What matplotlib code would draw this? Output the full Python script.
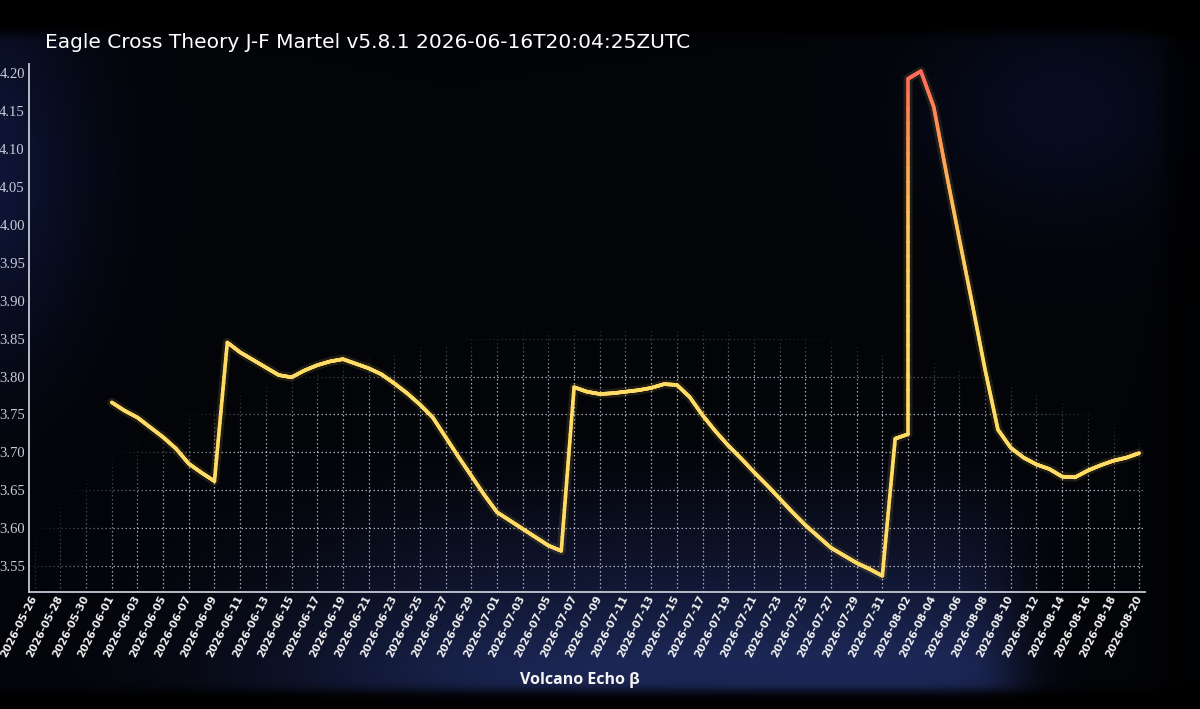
import numpy as np
import pandas as pd
import matplotlib
matplotlib.use("Agg")
import matplotlib.pyplot as plt
import matplotlib.dates as mdates
from matplotlib.collections import LineCollection
from matplotlib.colors import LinearSegmentedColormap, Normalize

# ---------------- data ----------------
dates = [
    "2026-06-01", "2026-06-02", "2026-06-03", "2026-06-04", "2026-06-05", "2026-06-06",
    "2026-06-07", "2026-06-08", "2026-06-09", "2026-06-10", "2026-06-11", "2026-06-12",
    "2026-06-13", "2026-06-14", "2026-06-15", "2026-06-16", "2026-06-17", "2026-06-18",
    "2026-06-19", "2026-06-20", "2026-06-21", "2026-06-22", "2026-06-23", "2026-06-24",
    "2026-06-25", "2026-06-26", "2026-06-27", "2026-06-28", "2026-06-29", "2026-06-30",
    "2026-07-01", "2026-07-02", "2026-07-03", "2026-07-04", "2026-07-05", "2026-07-06",
    "2026-07-07", "2026-07-08", "2026-07-09", "2026-07-10", "2026-07-11", "2026-07-12",
    "2026-07-13", "2026-07-14", "2026-07-15", "2026-07-16", "2026-07-17", "2026-07-18",
    "2026-07-19", "2026-07-20", "2026-07-21", "2026-07-22", "2026-07-23", "2026-07-24",
    "2026-07-25", "2026-07-26", "2026-07-27", "2026-07-28", "2026-07-29", "2026-07-30",
    "2026-07-31", "2026-08-01", "2026-08-02", "2026-08-02", "2026-08-03", "2026-08-04",
    "2026-08-05", "2026-08-06", "2026-08-07", "2026-08-08", "2026-08-09", "2026-08-10",
    "2026-08-11", "2026-08-12", "2026-08-13", "2026-08-14", "2026-08-15", "2026-08-16",
    "2026-08-17", "2026-08-18", "2026-08-19", "2026-08-20",
]
values = [
    3.766, 3.755, 3.746, 3.733, 3.720, 3.705,
    3.685, 3.673, 3.662, 3.845, 3.832, 3.822,
    3.812, 3.802, 3.799, 3.808, 3.815, 3.820,
    3.823, 3.817, 3.811, 3.803, 3.791, 3.778,
    3.763, 3.746, 3.720, 3.694, 3.669, 3.644,
    3.621, 3.610, 3.599, 3.588, 3.577, 3.570,
    3.786, 3.780, 3.777, 3.778, 3.780, 3.782,
    3.785, 3.790, 3.789, 3.773, 3.749, 3.728,
    3.709, 3.692, 3.674, 3.657, 3.639, 3.621,
    3.604, 3.589, 3.574, 3.564, 3.554, 3.546,
    3.537, 3.718, 3.724, 4.193, 4.203, 4.156,
    4.067, 3.981, 3.896, 3.809, 3.730, 3.706,
    3.693, 3.684, 3.678, 3.668, 3.667, 3.676,
    3.683, 3.689, 3.693, 3.699,
]
x_tick_start = "2026-05-26"
x_tick_end = "2026-08-20"
y_ticks = [3.55, 3.60, 3.65, 3.70, 3.75, 3.80, 3.85, 3.90, 3.95, 4.00, 4.05, 4.10, 4.15, 4.20]
title_text = "Eagle Cross Theory J-F Martel v5.8.1 2026-06-16T20:04:25ZUTC"
x_label_text = "Volcano Echo \u03b2"

# ---------------- figure ----------------
W, H = 1200, 709
fig = plt.figure(figsize=(12, 7.09), dpi=100)
fig.patch.set_facecolor("black")


def sig(z):
    return 1.0 / (1.0 + np.exp(-z))


# photographed-screen background (screen glow, bezels)
yy, xx = np.mgrid[0:H, 0:W].astype(float)
bg = np.zeros((H, W, 3))
bg[:] = np.array([3, 4, 8]) / 255.0
hx = sig((xx - 330) / 90.0) * sig((1012 - xx) / 18.0)
vy = np.clip((yy - 430) / 230.0, 0, 1) ** 1.4
bg += (hx * vy)[..., None] * np.array([26, 36, 80]) / 255.0
glow_tl = np.exp(-(((xx + 30) / 110.0) ** 2 + ((yy - 170) / 190.0) ** 2))
bg += glow_tl[..., None] * np.array([12, 18, 50]) / 255.0
glow_tr = np.exp(-(((xx - 1060) / 140.0) ** 2 + ((yy - 110) / 110.0) ** 2))
bg += glow_tr[..., None] * np.array([5, 8, 24]) / 255.0
top_bezel = sig((33 - yy) / 3.0)
bot_bezel = sig((yy - 690) / 3.0)
right_bezel = sig((xx - 1165) / 6.0)
dark = np.clip(top_bezel + bot_bezel + right_bezel * 0.7, 0, 1)
bg *= (1 - dark[..., None])
bg = np.clip(bg, 0, 1)

bgax = fig.add_axes([0, 0, 1, 1], zorder=-10)
bgax.imshow(bg, aspect="auto", extent=(0, 1, 0, 1), origin="upper", interpolation="bilinear")
bgax.set_axis_off()

L, R, T, B = 29, 1145, 64, 592
ax = fig.add_axes([L / W, 1 - B / H, (R - L) / W, (B - T) / H])
ax.set_facecolor("none")

x_dt = pd.to_datetime(dates)
x_num = mdates.date2num(x_dt)
y_arr = np.array(values)

# soft glow under the line
ax.plot(x_dt, y_arr, color="#ffcf5a", lw=6.5, alpha=0.12, zorder=3,
        solid_joinstyle="round", solid_capstyle="round")

# value-coloured line (yellow -> salmon red at the top)
cmap = LinearSegmentedColormap.from_list(
    "yr", [(0.0, "#ffdc66"), (0.45, "#ffc25a"), (0.75, "#ff9656"), (1.0, "#ff6a5a")])
norm = Normalize(3.86, 4.20, clip=True)
segs, cols = [], []
for i in range(len(x_num) - 1):
    n = 24
    xs = np.linspace(x_num[i], x_num[i + 1], n + 1)
    ys = np.linspace(y_arr[i], y_arr[i + 1], n + 1)
    for k in range(n):
        segs.append([(xs[k], ys[k]), (xs[k + 1], ys[k + 1])])
        cols.append(cmap(norm(0.5 * (ys[k] + ys[k + 1]))))
lc = LineCollection(segs, colors=cols, linewidths=2.6, capstyle="round",
                    joinstyle="round", zorder=4)
ax.add_collection(lc)

# axes cosmetics
ticks = pd.date_range(x_tick_start, x_tick_end, freq="2D")
ax.set_xticks(ticks)
ax.xaxis.set_major_formatter(mdates.DateFormatter("%Y-%m-%d"))
ax.set_yticks(y_ticks)
ax.set_yticklabels([f"{v:.2f}" for v in y_ticks])

ax.set_axisbelow(True)
ax.grid(True, color="#c4c8d6", linestyle=(0, (1.2, 2.0)), linewidth=0.9, alpha=0.85)

# fade the grid in the upper/outer region like the photo
crop = bg[T:B, L:R].copy()
gy, gx = np.mgrid[T:B, L:R].astype(float)
r = np.sqrt(((gx - 640) / 620.0) ** 2 + ((gy - 610) / 280.0) ** 2)
alpha = np.clip((r - 0.86) / 0.16, 0, 1)
rgba = np.dstack([crop, alpha])
ax.imshow(rgba, extent=(0, 1, 0, 1), transform=ax.transAxes, aspect="auto",
          origin="upper", zorder=1.5, interpolation="bilinear")

x0 = mdates.date2num(pd.Timestamp(x_tick_start)) - 0.44
x1 = mdates.date2num(pd.Timestamp(x_tick_end)) + 0.45
ax.set_xlim(x0, x1)
ax.set_ylim(3.5157, 4.2125)

for s in ["top", "right"]:
    ax.spines[s].set_visible(False)
for s in ["left", "bottom"]:
    ax.spines[s].set_color("#c4c8d4")
    ax.spines[s].set_linewidth(1.3)

ax.tick_params(axis="x", length=0, pad=3, colors="#f2f2f2")
ax.tick_params(axis="y", length=0, pad=3, colors="#c9cdd8")
for lab in ax.get_xticklabels():
    lab.set_rotation(63)
    lab.set_ha("right")
    lab.set_va("center")
    lab.set_rotation_mode("anchor")
    lab.set_fontweight("bold")
    lab.set_fontsize(7.7)
    lab.set_family("DejaVu Sans")
for lab in ax.get_yticklabels():
    lab.set_family("Liberation Serif")
    lab.set_fontsize(10.5)

fig.text(45 / W, 1 - 42 / H, title_text, ha="left", va="center", color="white",
         fontsize=14.5, family="DejaVu Sans")
fig.text(580 / W, 1 - 680 / H, x_label_text, ha="center", va="center", color="#f4f4f4",
         fontsize=11.5, fontweight="bold", family=["Open Sans", "DejaVu Sans"])

fig.savefig("out.png", dpi=100, facecolor=fig.get_facecolor())
